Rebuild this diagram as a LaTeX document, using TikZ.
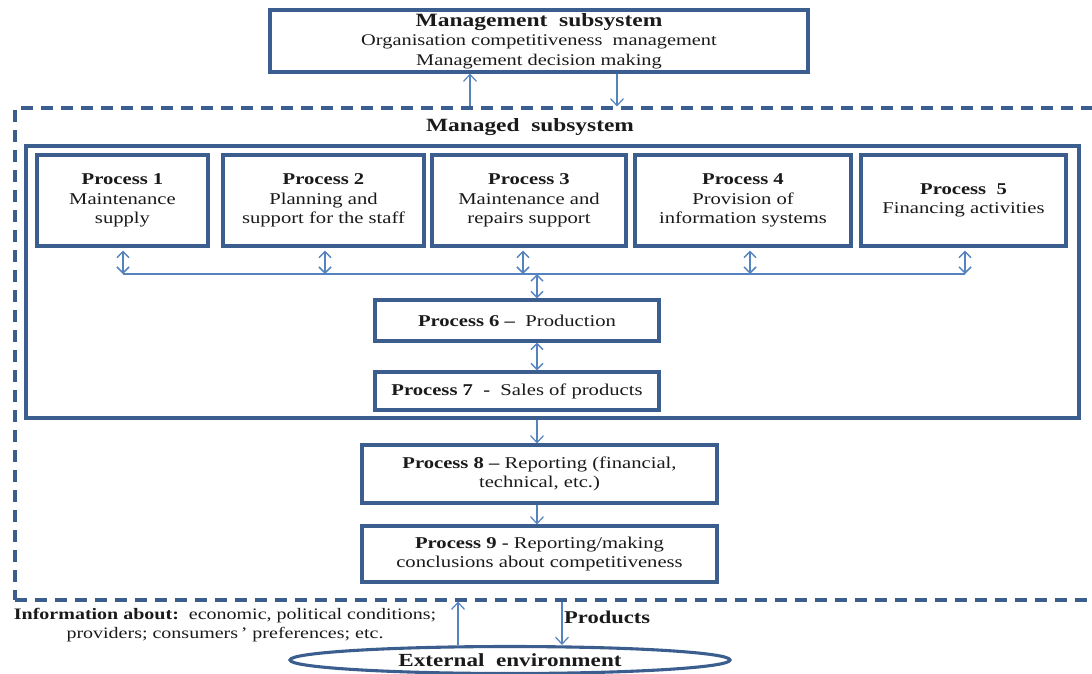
\documentclass[tikz,border=0pt]{standalone}
\usepackage{fontspec}
\setmainfont{Liberation Serif}[FakeStretch=1.25]
\usetikzlibrary{arrows.meta,shapes.geometric}
\definecolor{boxblue}{HTML}{3B5E8F}
\definecolor{arrblue}{HTML}{5583BF}
\definecolor{txt}{HTML}{1A1A1A}
\begin{document}
\begin{tikzpicture}[x=1pt,y=-1pt,
  pbox/.style={draw=boxblue, line width=3.1pt, inner sep=0pt, align=center, text=txt, font=\fontsize{16.5}{19.5}\selectfont},
  dashbox/.style={draw=boxblue, line width=3.1pt, dash pattern=on 12pt off 8pt, inner sep=0pt},
  dbl/.style={draw=arrblue, line width=1.5pt, {Straight Barb[length=6pt,width=12pt]}-{Straight Barb[length=6pt,width=12pt]}},
  arr/.style={draw=arrblue, line width=1.2pt, -{Straight Barb[length=7pt,width=13pt]}},
  bigbold/.style={text=txt, inner sep=0pt, font=\fontsize{18.7}{20}\selectfont\bfseries},
  plain/.style={text=txt, inner sep=0pt, align=center}
]
\useasboundingbox (0,0) rectangle (1092,673);

% management subsystem
\node[pbox, minimum width=538pt, minimum height=62pt, font=\fontsize{16.3}{19.5}\selectfont] (mgmt) at (539,41)
  {{\fontsize{18.8}{20}\selectfont\bfseries Management\ \ subsystem}\\Organisation competitiveness\ \ management\\Management decision making};

% managed subsystem (dashed)
\node[dashbox, minimum width=1083pt, minimum height=492pt] (ms) at (556.5,354) {};
\node[bigbold] (mtitle) at (530,127) {Managed\ \ subsystem};

% inner frame
\node[draw=boxblue, line width=3.1pt, inner sep=0pt, minimum width=1053pt, minimum height=272pt] (inner) at (552.5,282) {};

% processes 1-5
\node[pbox, minimum width=171pt, minimum height=91pt] (p1) at (122.5,200.5) {\textbf{Process 1}\\Maintenance\\supply};
\node[pbox, minimum width=201pt, minimum height=91pt] (p2) at (323.5,200.5) {\textbf{Process 2}\\Planning and\\support for the staff};
\node[pbox, minimum width=194pt, minimum height=91pt] (p3) at (529,200.5) {\textbf{Process 3}\\Maintenance and\\repairs support};
\node[pbox, minimum width=216pt, minimum height=91pt] (p4) at (743,200.5) {\textbf{Process 4}\\Provision of\\information systems};
\node[pbox, minimum width=205pt, minimum height=91pt] (p5) at (963.5,200.5) {\textbf{Process\ \ 5}\\Financing activities};

% processes 6-9
\node[pbox, minimum width=284pt, minimum height=41pt] (p6) at (517,320.5) {\textbf{Process 6 --}\ \ Production};
\node[pbox, minimum width=284pt, minimum height=38pt] (p7) at (517,391) {\textbf{Process 7\ \ -}\ \ Sales of products};
\node[pbox, minimum width=355pt, minimum height=58pt] (p8) at (539.5,474) {\textbf{Process 8 --} Reporting (financial,\\technical, etc.)};
\node[pbox, minimum width=355pt, minimum height=56pt] (p9) at (539.5,554) {\textbf{Process 9 -} Reporting/making\\conclusions about competitiveness};

% external environment
\node[ellipse, draw=boxblue, line width=3.1pt, minimum width=440pt, minimum height=27pt, bigbold, font=\fontsize{18.5}{20}\selectfont\bfseries] (ext) at (510,660) {External\ \ environment};

% bus
\coordinate (bus) at (0,274);
\coordinate (a1) at (123,0);
\coordinate (a2) at (325,0);
\coordinate (a3) at (523,0);
\coordinate (a4) at (750,0);
\coordinate (a5) at (965,0);
\coordinate (c6) at (537,0);
\draw[draw=arrblue, line width=1.3pt] (a1 |- bus) -- (a5 |- bus);
\foreach \i in {1,...,5}{
  \draw[dbl, shorten <=3pt] (a\i |- p\i.south) -- (a\i |- bus);
}
\draw[dbl] (c6 |- bus) -- (c6 |- p6.north);
\draw[dbl] (c6 |- p6.south) -- (c6 |- p7.north);
\draw[arr] (c6 |- inner.south) -- (c6 |- p8.north);
\draw[arr] (c6 |- p8.south) -- (c6 |- p9.north);

% management arrows
\coordinate (u1) at (470,0);
\coordinate (d1) at (617,0);
\draw[arr] (u1 |- ms.north) -- (u1 |- mgmt.south);
\draw[arr] (d1 |- mgmt.south) -- (d1 |- ms.north);

% environment arrows
\coordinate (u2) at (458,0);
\coordinate (d2) at (562,0);
\draw[arr] (u2 |- ext.north) -- (u2 |- ms.south);
\draw[arr] (d2 |- ms.south) -- (d2 |- ext.north);

% labels
\node[anchor=base west, text=txt, inner sep=0pt, font=\fontsize{18}{19}\selectfont\bfseries] (prod) at (564,623) {Products};
\node[plain, font=\fontsize{16}{19}\selectfont] (info) at (225,625)
  {\textbf{Information about:}\ \ economic, political conditions;\\providers; consumers\,' preferences; etc.};
\end{tikzpicture}
\end{document}
